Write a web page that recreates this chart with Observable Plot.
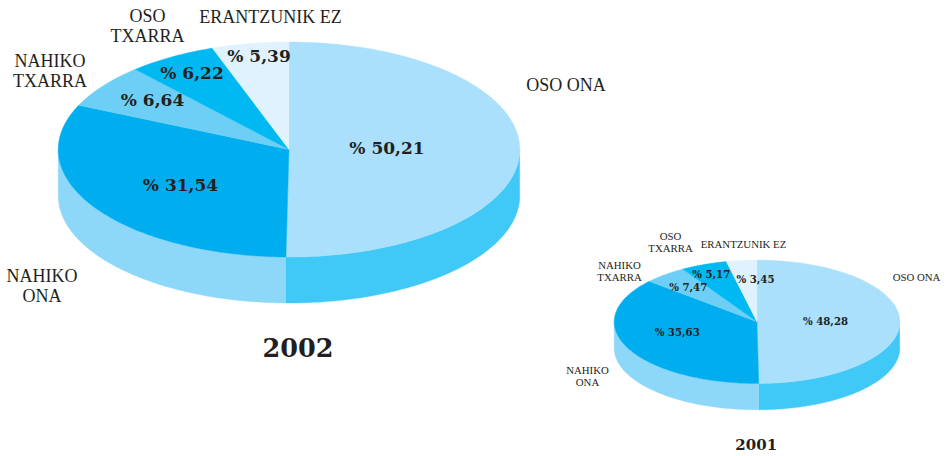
<!DOCTYPE html>
<html>
<head>
<meta charset="utf-8">
<script src="https://cdn.jsdelivr.net/npm/d3@7"></script>
<script src="https://cdn.jsdelivr.net/npm/@observablehq/plot@0.6"></script>
<style>html,body{margin:0;padding:0;background:#fff}svg{display:block}</style>
</head>
<body>
<div id="chart"></div>
<script>
// Categories, clockwise from twelve o'clock
const categories = ["OSO ONA", "NAHIKO ONA", "NAHIKO TXARRA", "OSO TXARRA", "ERANTZUNIK EZ"];
const categoryLines = ["OSO ONA", "NAHIKO\nONA", "NAHIKO\nTXARRA", "OSO\nTXARRA", "ERANTZUNIK EZ"];

// Printed values
const values2002 = [50.21, 31.54, 6.64, 6.22, 5.39];
const values2001 = [48.28, 35.63, 7.47, 5.17, 3.45];

// Slice sizes as drawn in the 2001 picture (its slices do not quite follow its printed values)
const drawn2001 = [49.8, 36.6, 4.9, 5.25, 3.45];

const colors = ["#aae0fb", "#00aeef", "#6dcff6", "#00b9f2", "#dff2fd"];
const sideColors = ["#40c8f6", "#8dd7f9"];
const ink = "#231f20";

// Pie layout, page pixels
const pie2002 = {cx: 288.5, cy: 149, rx: 230.8, ry: 107.5, depth: 46};
const pie2001 = {cx: 756.5, cy: 321.3, rx: 142.8, ry: 61.7, depth: 26.3};

// Label anchors, as offsets from each pie's centre
const nameDx2002 = [277, -247, -239, -141.5, -18.5];
const nameDy2002 = [-65, 136, -79, -124, -133];
const valueDx2002 = [98, -108.5, -136.5, -97, -30];
const valueDy2002 = [-1.5, 35.5, -49.5, -76.5, -93.5];
const yearPos2002 = [9, 198];

const nameDx2001 = [159.5, -169.5, -137.5, -86.5, -13.5];
const nameDy2001 = [-44.3, 54.7, -50.3, -79.3, -77.3];
const valueDx2001 = [68.5, -79.8, -68.8, -45.8, -1.5];
const valueDy2001 = [-0.3, 10.7, -34.3, -47.3, -42.3];
const yearPos2001 = [-0.8, 122.7];

const point = (p, deg, drop = 0) => {
  const t = deg * Math.PI / 180;
  return {x: p.cx + p.rx * Math.sin(t), y: p.cy - p.ry * Math.cos(t) + drop};
};
const arc = (p, a, b, drop = 0) => {
  const n = Math.max(2, Math.ceil(Math.abs(b - a)));
  return d3.range(n + 1).map((i) => point(p, a + (b - a) * i / n, drop));
};

// Top-face wedges and side-wall pieces, all derived from slice sizes
function wedges(p, sizes, tag) {
  const total = d3.sum(sizes);
  const edges = d3.cumsum(sizes).map((v) => v / total * 360);
  const rows = [];
  sizes.forEach((_, i) => {
    const a = i ? edges[i - 1] : 0;
    const outline = [{x: p.cx, y: p.cy}, ...arc(p, a, edges[i]), {x: p.cx, y: p.cy}];
    outline.forEach((q) => rows.push({...q, key: `${tag}-${i}`, fill: colors[i]}));
  });
  return rows;
}
function walls(p, sizes, tag) {
  const seam = sizes[0] / d3.sum(sizes) * 360;
  const wall = (a, b, fill, key) => [...arc(p, a, b), ...arc(p, b, a, p.depth)]
    .map((q) => ({...q, key: `${tag}-${key}`, fill}));
  return [...wall(90, seam, sideColors[0], "r"), ...wall(seam, 270, sideColors[1], "l")];
}
const fmt = (v) => `% ${v.toFixed(2).replace(".", ",")}`;
const labels = (p, dx, dy, text) => text.map((t, i) => ({x: p.cx + dx[i], y: p.cy + dy[i], t}));

const polygons = [
  ...walls(pie2002, values2002, "a"), ...wedges(pie2002, values2002, "a"),
  ...walls(pie2001, drawn2001, "b"), ...wedges(pie2001, drawn2001, "b")
];
const shape = Plot.line(polygons, {
  x: "x", y: "y", z: "key", fill: (d) => d.fill, stroke: (d) => d.fill,
  strokeWidth: 0.4, curve: "linear"
});

const text = (rows, size, weight, family, color = ink) => Plot.text(rows, {
  x: "x", y: "y", text: "t", fontSize: size, fontWeight: weight, fontFamily: family,
  fill: color, lineHeight: 1.11, textAnchor: "middle", frameAnchor: "middle"
});
const SERIF = "Liberation Serif", SLAB = "DejaVu Serif";

const chart = Plot.plot({
  width: 949, height: 456,
  marginTop: 0, marginRight: 0, marginBottom: 0, marginLeft: 0,
  style: {background: "#fff"},
  x: {domain: [0, 949], range: [0, 949], axis: null},
  y: {domain: [0, 456], range: [0, 456], axis: null},
  color: {type: "identity"},
  marks: [
    shape,
    text(labels(pie2002, nameDx2002, nameDy2002, categoryLines), 18, 400, SERIF),
    text(labels(pie2002, valueDx2002, valueDy2002, values2002.map(fmt)), 17, 700, SLAB),
    text([{x: pie2002.cx + yearPos2002[0], y: pie2002.cy + yearPos2002[1], t: "2002"}], 25.5, 700, SLAB),
    text(labels(pie2001, nameDx2001, nameDy2001, categoryLines), 10.8, 400, SERIF),
    text(labels(pie2001, valueDx2001, valueDy2001, values2001.map(fmt)), 10.2, 700, SLAB),
    text([{x: pie2001.cx + yearPos2001[0], y: pie2001.cy + yearPos2001[1], t: "2001"}], 15, 700, SLAB)
  ]
});
document.getElementById("chart").append(chart);
</script>
</body>
</html>
